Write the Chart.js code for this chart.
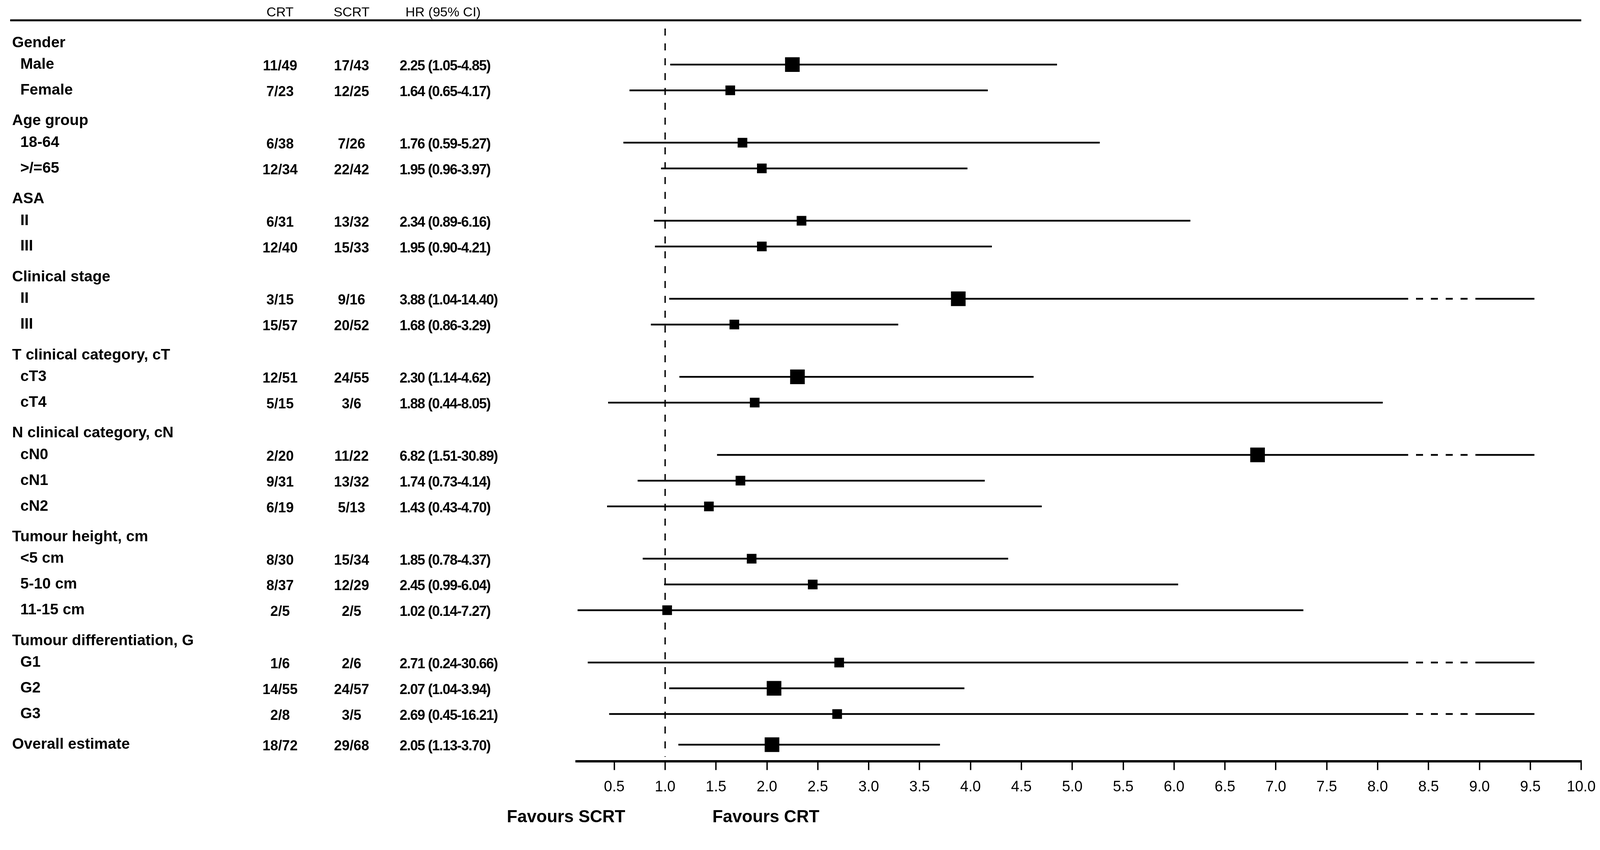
<!DOCTYPE html>
<html lang="en">
<head>
<meta charset="UTF-8" />
<title>Forest plot - CRT vs SCRT</title>
<script src="https://cdn.jsdelivr.net/npm/chart.js@4"></script>
<style>
  html, body { margin: 0; padding: 0; background: #fff; }
  canvas { display: block; }
</style>
</head>
<body>
<canvas id="forest" width="4186" height="2175"></canvas>
<script>
  // rows, top to bottom. 'head' = subgroup title, 'item' = subgroup, 'total' = overall
  const rowLabels = ['Gender', 'Male', 'Female',
    'Age group', '18-64', '>/=65',
    'ASA', 'II', 'III',
    'Clinical stage', 'II', 'III',
    'T clinical category, cT', 'cT3', 'cT4',
    'N clinical category, cN', 'cN0', 'cN1', 'cN2',
    'Tumour height, cm', '<5 cm', '5-10 cm', '11-15 cm',
    'Tumour differentiation, G', 'G1', 'G2', 'G3',
    'Overall estimate'];
  const rowKind = ['head', 'item', 'item',
    'head', 'item', 'item',
    'head', 'item', 'item',
    'head', 'item', 'item',
    'head', 'item', 'item',
    'head', 'item', 'item', 'item',
    'head', 'item', 'item', 'item',
    'head', 'item', 'item', 'item',
    'total'];
  const crtEvents = [null, '11/49', '7/23', null, '6/38', '12/34', null, '6/31', '12/40',
    null, '3/15', '15/57', null, '12/51', '5/15', null, '2/20', '9/31', '6/19',
    null, '8/30', '8/37', '2/5', null, '1/6', '14/55', '2/8', '18/72'];
  const scrtEvents = [null, '17/43', '12/25', null, '7/26', '22/42', null, '13/32', '15/33',
    null, '9/16', '20/52', null, '24/55', '3/6', null, '11/22', '13/32', '5/13',
    null, '15/34', '12/29', '2/5', null, '2/6', '24/57', '3/5', '29/68'];
  const hr = [null, 2.25, 1.64, null, 1.76, 1.95, null, 2.34, 1.95,
    null, 3.88, 1.68, null, 2.30, 1.88, null, 6.82, 1.74, 1.43,
    null, 1.85, 2.45, 1.02, null, 2.71, 2.07, 2.69, 2.05];
  const ciLow = [null, 1.05, 0.65, null, 0.59, 0.96, null, 0.89, 0.90,
    null, 1.04, 0.86, null, 1.14, 0.44, null, 1.51, 0.73, 0.43,
    null, 0.78, 0.99, 0.14, null, 0.24, 1.04, 0.45, 1.13];
  const ciHigh = [null, 4.85, 4.17, null, 5.27, 3.97, null, 6.16, 4.21,
    null, 14.40, 3.29, null, 4.62, 8.05, null, 30.89, 4.14, 4.70,
    null, 4.37, 6.04, 7.27, null, 30.66, 3.94, 16.21, 3.70];
  const xTicks = [0.5, 1.0, 1.5, 2.0, 2.5, 3.0, 3.5, 4.0, 4.5, 5.0,
    5.5, 6.0, 6.5, 7.0, 7.5, 8.0, 8.5, 9.0, 9.5, 10.0];

  const X_MIN = 0.13, X_MAX = 10;
  // CIs running past the axis are broken: solid, dashed gap, solid stub
  const BREAK_FROM = 8.3, BREAK_TO = 8.97, STUB_END = 9.54;

  const FONT = '"Liberation Sans", Arial, sans-serif';

  // vertical layout of the rows (in row units)
  const rowPos = [];
  let pos = 0;
  rowKind.forEach((k, i) => {
    if (i > 0) {
      if (k !== 'item') pos += 1.19;
      else if (rowKind[i - 1] === 'head') pos += 0.84;
      else pos += 1.0;
    }
    rowPos.push(pos);
  });
  const Y_MIN = -0.56, Y_MAX = pos + 0.65;

  const ciSets = [];
  const markers = [];
  rowKind.forEach((k, i) => {
    if (hr[i] === null) return;
    const y = rowPos[i];
    let pts;
    if (ciHigh[i] > X_MAX) {
      pts = [{x: ciLow[i], y}, {x: BREAK_FROM, y}, {x: BREAK_TO, y}, {x: STUB_END, y}];
    } else {
      pts = [{x: ciLow[i], y}, {x: ciHigh[i], y}];
    }
    const broken = ctx => pts.length > 2 && ctx.p0DataIndex === 1;
    ciSets.push({
      type: 'scatter',
      data: pts,
      showLine: true,
      borderColor: '#000',
      borderWidth: 4.5,
      borderCapStyle: 'butt',
      pointRadius: 0,
      order: 2,
      segment: {
        borderDash: ctx => broken(ctx) ? [18, 20] : undefined,
        borderDashOffset: ctx => broken(ctx) ? 18 : 0
      }
    });
    markers.push({
      x: hr[i], y,
      sig: ciLow[i] > 1 // squares are larger where the CI excludes 1
    });
  });

  const refLine = {
    id: 'refLine',
    beforeDatasetsDraw(chart) {
      const {ctx, chartArea} = chart;
      const x = chart.scales.x.getPixelForValue(1);
      ctx.save();
      ctx.strokeStyle = '#000';
      ctx.lineWidth = 3.5;
      ctx.setLineDash([18, 20]);
      ctx.beginPath();
      ctx.moveTo(x, chartArea.top);
      ctx.lineTo(x, chartArea.bottom - 12);
      ctx.stroke();
      ctx.restore();
    }
  };

  const table = {
    id: 'table',
    afterDraw(chart) {
      const {ctx, chartArea} = chart;
      const ys = chart.scales.y;
      const refX = chart.scales.x.getPixelForValue(1);
      ctx.save();
      ctx.fillStyle = '#000';
      ctx.strokeStyle = '#000';

      ctx.lineWidth = 5;
      ctx.beginPath();
      ctx.moveTo(26, 52);
      ctx.lineTo(chartArea.right, 52);
      ctx.stroke();

      ctx.textBaseline = 'middle';
      ctx.font = '34px ' + FONT;
      ctx.textAlign = 'center';
      ctx.fillText('CRT', 717, 33);
      ctx.fillText('SCRT', 900, 33);
      ctx.textAlign = 'left';
      ctx.fillText('HR (95% CI)', 1038, 33);

      rowLabels.forEach((label, i) => {
        const y = ys.getPixelForValue(rowPos[i]);
        ctx.font = 'bold 39px ' + FONT;
        ctx.letterSpacing = '0px';
        ctx.textAlign = 'left';
        ctx.fillText(label, rowKind[i] === 'item' ? 52 : 31, y);
        if (hr[i] === null) return;
        ctx.font = 'bold 36px ' + FONT;
        ctx.textAlign = 'center';
        ctx.fillText(crtEvents[i], 717, y + 5);
        ctx.fillText(scrtEvents[i], 900, y + 5);
        ctx.textAlign = 'left';
        ctx.letterSpacing = '-1.5px';
        ctx.fillText(hr[i].toFixed(2) + ' (' + ciLow[i].toFixed(2) + '-' + ciHigh[i].toFixed(2) + ')', 1023, y + 5);
      });
      ctx.letterSpacing = '0px';

      ctx.font = 'bold 44px ' + FONT;
      ctx.textAlign = 'right';
      ctx.fillText('Favours SCRT', refX - 102, 2092);
      ctx.textAlign = 'left';
      ctx.fillText('Favours CRT', refX + 121, 2092);
      ctx.restore();
    }
  };

  new Chart(document.getElementById('forest'), {
    type: 'scatter',
    data: {
      datasets: [{
        data: markers,
        pointStyle: 'rect',
        backgroundColor: '#000',
        borderWidth: 0,
        pointRadius: ctx => (ctx.raw && ctx.raw.sig) ? 26.5 : 17.5,
        order: 1
      }].concat(ciSets)
    },
    options: {
      responsive: false,
      devicePixelRatio: 1,
      animation: false,
      layout: { padding: { left: 1476, right: 138, top: 73, bottom: 117 } },
      plugins: { legend: { display: false }, tooltip: { enabled: false } },
      scales: {
        x: {
          type: 'linear',
          min: X_MIN,
          max: X_MAX,
          afterBuildTicks: scale => { scale.ticks = xTicks.map(v => ({ value: v })); },
          ticks: {
            autoSkip: false,
            maxRotation: 0,
            padding: 21,
            color: '#000',
            font: { family: FONT, size: 38 },
            callback: v => v.toFixed(1)
          },
          grid: { drawOnChartArea: false, drawTicks: true, tickLength: 22, color: '#000', lineWidth: 3.5 },
          border: { display: true, color: '#000', width: 6 }
        },
        y: {
          type: 'linear',
          display: false,
          reverse: true,
          min: Y_MIN,
          max: Y_MAX
        }
      }
    },
    plugins: [refLine, table]
  });
</script>
</body>
</html>
